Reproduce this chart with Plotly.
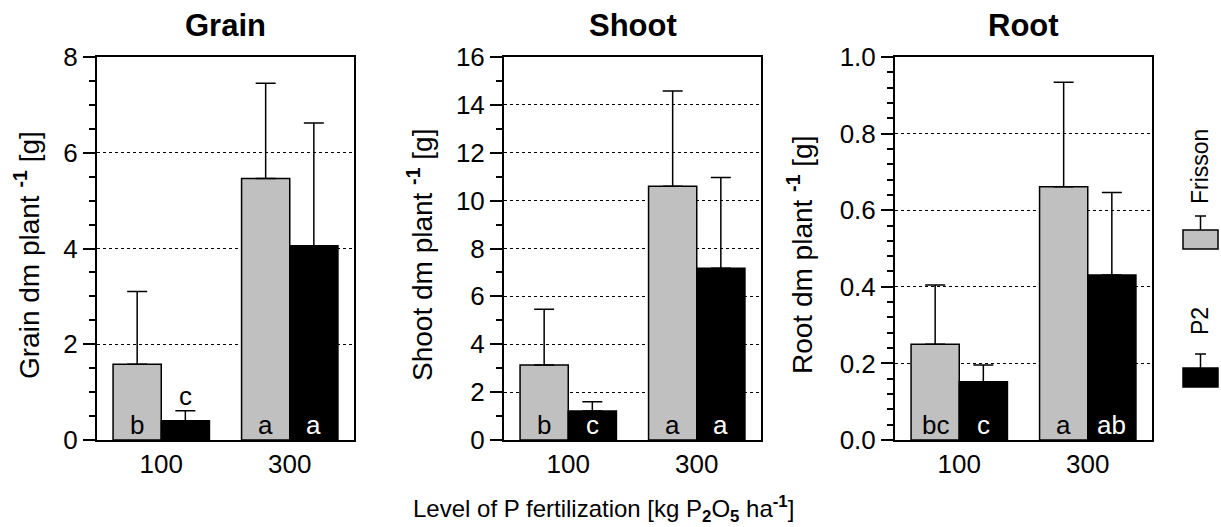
import plotly.graph_objects as go

W, H = 1221, 527
FONT = "Arial, Liberation Sans, sans-serif"

levels = ["100", "300"]
panel_titles = ["Grain", "Shoot", "Root"]
y_titles = [
    "Grain dm plant <sup><b>-1</b></sup> [g]",
    "Shoot dm plant <sup><b>-1</b></sup> [g]",
    "Root dm plant <sup><b>-1</b></sup> [g]",
]
x_title = "Level of P fertilization [kg P<sub><b>2</b></sub>O<sub><b>5</b></sub> ha<sup><b>-1</b></sup>]"
series_names = ["Frisson", "P2"]

# means and standard deviations (upper error)
grain_frisson = [1.58, 5.46]
grain_frisson_sd = [1.52, 1.99]
grain_p2 = [0.40, 4.06]
grain_p2_sd = [0.21, 2.56]

shoot_frisson = [3.13, 10.60]
shoot_frisson_sd = [2.33, 3.98]
shoot_p2 = [1.21, 7.18]
shoot_p2_sd = [0.39, 3.79]

root_frisson = [0.250, 0.661]
root_frisson_sd = [0.155, 0.273]
root_p2 = [0.152, 0.431]
root_p2_sd = [0.044, 0.215]

# significance letters
grain_letters_frisson = ["b", "a"]
grain_letters_p2 = ["c", "a"]
shoot_letters_frisson = ["b", "a"]
shoot_letters_p2 = ["c", "a"]
root_letters_frisson = ["bc", "a"]
root_letters_p2 = ["c", "ab"]
# whether letter sits above the error bar (bar too short)
grain_above_p2 = [True, False]

# axis settings
y_ranges = [[0, 8], [0, 16], [0, 1.0]]
y_dticks = [2, 2, 0.2]
y_minor = [0.5, 1, 0.04]
y_formats = ["", "", ".1f"]

colors = ["#c0c0c0", "#000000"]
text_colors = ["#000000", "#ffffff"]

data = [
    (grain_frisson, grain_frisson_sd, grain_p2, grain_p2_sd,
     grain_letters_frisson, grain_letters_p2, grain_above_p2),
    (shoot_frisson, shoot_frisson_sd, shoot_p2, shoot_p2_sd,
     shoot_letters_frisson, shoot_letters_p2, [False, False]),
    (root_frisson, root_frisson_sd, root_p2, root_p2_sd,
     root_letters_frisson, root_letters_p2, [False, False]),
]

# layout in pixels
panel_x = [(97, 354), (504, 761), (895, 1152)]
plot_top, plot_bottom = 57, 440
ytitle_x = [27, 420, 800]


def px(x):
    return x / W


def py(y):
    return 1 - y / H


fig = go.Figure()
bargap = 0.25
offset = (1 - bargap) / 4
xs = [0, 1]

annotations = []
for i, (fr, fr_sd, p2, p2_sd, lf, lp, above_p2) in enumerate(data):
    xa = "x" if i == 0 else f"x{i+1}"
    ya = "y" if i == 0 else f"y{i+1}"
    for vals, sd, col, name in [(fr, fr_sd, colors[0], series_names[0]),
                                (p2, p2_sd, colors[1], series_names[1])]:
        fig.add_trace(go.Bar(
            x=xs, y=vals, name=name, xaxis=xa, yaxis=ya,
            marker=dict(color=col, line=dict(color="#000000", width=1.5)),
            error_y=dict(type="data", array=sd, arrayminus=[0, 0],
                         symmetric=False, color="#000000",
                         thickness=1.5, width=10),
            showlegend=False,
        ))
    # letters
    for k in range(2):
        annotations.append(dict(
            x=xs[k] - offset, y=0, xref=xa, yref=ya, text=lf[k],
            showarrow=False, xanchor="center", yanchor="bottom", yshift=-2,
            font=dict(family=FONT, size=26, color=text_colors[0])))
        if above_p2[k]:
            annotations.append(dict(
                x=xs[k] + offset, y=p2[k] + p2_sd[k], xref=xa, yref=ya,
                text=lp[k], showarrow=False, xanchor="center",
                yanchor="bottom", yshift=-2,
                font=dict(family=FONT, size=26, color="#000000")))
        else:
            annotations.append(dict(
                x=xs[k] + offset, y=0, xref=xa, yref=ya, text=lp[k],
                showarrow=False, xanchor="center", yanchor="bottom", yshift=-2,
                font=dict(family=FONT, size=26, color=text_colors[1])))

    x0, x1 = panel_x[i]
    axis_common = dict(showline=True, linecolor="#000000", linewidth=2,
                       mirror=True, zeroline=False, automargin=False)
    fig.update_layout(**{
        ("xaxis" if i == 0 else f"xaxis{i+1}"): dict(
            domain=[px(x0), px(x1)], range=[-0.5, 1.5], anchor=ya,
            tickvals=xs, ticktext=levels, ticks="", showgrid=False,
            tickfont=dict(family=FONT, size=26, color="#000000"),
            **axis_common),
        ("yaxis" if i == 0 else f"yaxis{i+1}"): dict(
            domain=[py(plot_bottom), py(plot_top)], range=y_ranges[i],
            anchor=xa, tick0=0, dtick=y_dticks[i], tickformat=y_formats[i],
            ticks="outside", ticklen=12, tickwidth=2, tickcolor="#000000",
            tickfont=dict(family=FONT, size=26, color="#000000"),
            showgrid=True, gridcolor="#000000", gridwidth=1, griddash="dot",
            minor=dict(dtick=y_minor[i], tick0=0, ticks="outside", ticklen=6,
                       tickwidth=1.5, tickcolor="#000000", showgrid=False),
            **axis_common),
    })
    # panel title
    annotations.append(dict(
        x=px((x0 + x1) / 2), y=py(26), xref="paper", yref="paper",
        text=f"<b>{panel_titles[i]}</b>", showarrow=False,
        xanchor="center", yanchor="middle",
        font=dict(family=FONT, size=31, color="#000000")))
    # y title
    annotations.append(dict(
        x=px(ytitle_x[i]), y=py(255), xref="paper",
        yref="paper", text=y_titles[i], showarrow=False, textangle=-90,
        xanchor="center", yanchor="middle",
        font=dict(family=FONT, size=28, color="#000000")))

# x title
annotations.append(dict(
    x=px(603), y=py(509), xref="paper", yref="paper", text=x_title,
    showarrow=False, xanchor="center", yanchor="middle",
    font=dict(family=FONT, size=24, color="#000000")))

# legend (rotated) drawn manually
shapes = []
legend_items = [(series_names[0], colors[0], 230, 167),
                (series_names[1], colors[1], 368, 321)]
for name, col, box_top, text_y in legend_items:
    shapes.append(dict(type="rect", xref="paper", yref="paper",
                       x0=px(1183), x1=px(1218), y0=py(box_top + 19), y1=py(box_top),
                       fillcolor=col, line=dict(color="#000000", width=1.5)))
    shapes.append(dict(type="line", xref="paper", yref="paper",
                       x0=px(1200.5), x1=px(1200.5), y0=py(box_top), y1=py(box_top - 14),
                       line=dict(color="#000000", width=1.5)))
    shapes.append(dict(type="line", xref="paper", yref="paper",
                       x0=px(1195), x1=px(1206), y0=py(box_top - 14), y1=py(box_top - 14),
                       line=dict(color="#000000", width=1.5)))
    annotations.append(dict(
        x=px(1200), y=py(text_y), xref="paper", yref="paper", text=name,
        showarrow=False, textangle=-90, xanchor="center", yanchor="middle",
        font=dict(family=FONT, size=23, color="#000000")))

fig.update_layout(
    template="none",
    width=W, height=H, margin=dict(l=0, r=0, t=0, b=0, autoexpand=False),
    paper_bgcolor="#ffffff", plot_bgcolor="#ffffff",
    barmode="group", bargap=bargap, bargroupgap=0,
    annotations=annotations, shapes=shapes, showlegend=False,
    font=dict(family=FONT, color="#000000"),
)

fig.write_html("out.html")
